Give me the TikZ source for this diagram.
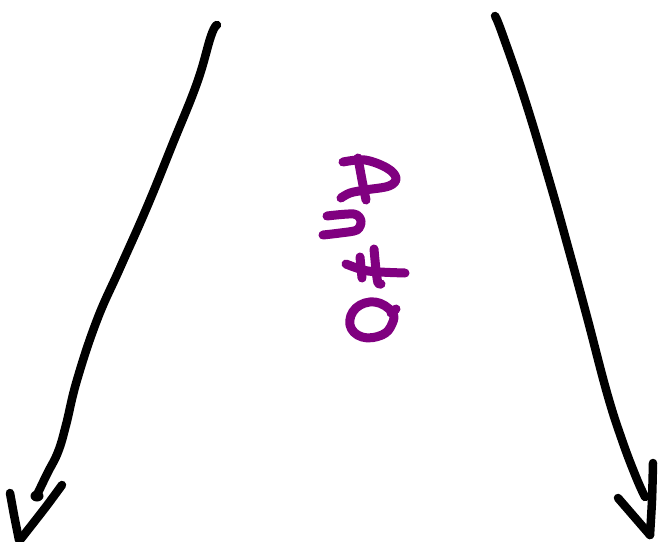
\documentclass[tikz,border=0pt]{standalone}
\definecolor{ink}{HTML}{000000}
\definecolor{pen}{HTML}{800080}
\tikzset{
  blackstroke/.style={draw=ink, line width=8.5pt, line cap=round, line join=round},
  purplestroke/.style={draw=pen, line width=9pt, line cap=round, line join=round}
}
\begin{document}
\begin{tikzpicture}[x=1pt,y=-1pt]
\useasboundingbox (0,0) rectangle (669,541);
\clip (0,0) rectangle (669,541);
% left arrow
\draw[blackstroke] plot[smooth,tension=0.7] coordinates {(217,25) (211,36) (197,83) (173,143) (147,207) (120,268) (97,320) (77,380) (66,425) (58,452) (47,474) (36,497)};
\fill[ink] (37,496) ellipse (6.5pt and 5.5pt);
\draw[blackstroke] (10,493) -- (14,515) -- (19,540);
\draw[blackstroke] plot[smooth] coordinates {(62,485) (45,508) (20,540)};
% right arrow
\draw[blackstroke] plot[smooth,tension=0.7] coordinates {(495,16) (502,33) (525,100) (550,183) (568,247) (587,317) (607,393) (622,440) (636,477) (645,497)};
\draw[blackstroke] plot[smooth] coordinates {(653,463) (652,500) (650,535)};
\draw[blackstroke] (618,498) -- (650,535);
% purple hand lettering
\draw[purplestroke] plot[smooth,tension=0.6] coordinates {(343,162) (365,160) (387,168) (396,178) (389,186) (365,190) (350,193) (341,198)};
\draw[purplestroke] plot[smooth] coordinates {(358,158) (362,180) (366,200)};
\draw[purplestroke] plot[smooth,tension=0.5] coordinates {(327,216) (354,214) (361,221) (357,230) (340,233) (323,235)};
\draw[purplestroke] plot[smooth] coordinates {(346,264) (368,271) (405,273)};
\draw[purplestroke] (360,257) -- (362,278);
\draw[purplestroke] plot[smooth] coordinates {(374,249) (376,270) (378,283) (381,284)};
\draw[purplestroke] plot[smooth cycle,tension=0.7] coordinates {(392,312) (375,302) (356,308) (350,325) (362,337) (382,335) (392,324)};
\draw[purplestroke] (391,313) -- (396,309);
\end{tikzpicture}
\end{document}
